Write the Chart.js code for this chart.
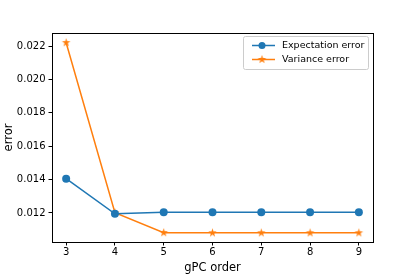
<!DOCTYPE html>
<html>
<head>
<meta charset="utf-8">
<script src="https://cdn.jsdelivr.net/npm/chart.js@4.4.1/dist/chart.umd.min.js"></script>
<style>
  html, body { margin: 0; padding: 0; background: #fff; }
  #wrap { width: 415px; height: 277px; }
</style>
</head>
<body>
<div id="wrap"><canvas id="grafico" width="415" height="277"></canvas></div>
<script>
const ordens = [3, 4, 5, 6, 7, 8, 9];
const erroEsperanca = [0.01405, 0.01195, 0.01204, 0.01204, 0.01204, 0.01204, 0.01204];
const erroVariancia = [0.0222, 0.01202, 0.01082, 0.01081, 0.01081, 0.01081, 0.01081];
const ticksY = [0.012, 0.014, 0.016, 0.018, 0.020, 0.022];

const azul = '#1f77b4';
const laranja = '#ff7f0e';

// estrela preenchida estilo matplotlib
function criarEstrela(cor, r) {
  const c = document.createElement('canvas');
  const s = Math.ceil(r * 2 + 2);
  c.width = s; c.height = s;
  const g = c.getContext('2d');
  g.translate(s / 2, s / 2);
  g.beginPath();
  for (let i = 0; i < 10; i++) {
    const rad = i % 2 === 0 ? r : r * 0.38;
    const ang = -Math.PI / 2 + i * Math.PI / 5;
    const px = rad * Math.cos(ang), py = rad * Math.sin(ang);
    if (i === 0) g.moveTo(px, py); else g.lineTo(px, py);
  }
  g.closePath();
  g.fillStyle = cor;
  g.fill();
  return c;
}
const estrela = criarEstrela(laranja, 4.5);

const fonte = 'DejaVu Sans';

const moldura = {
  id: 'moldura',
  afterDraw(chart) {
    const { ctx, chartArea: a } = chart;
    ctx.save();
    ctx.strokeStyle = '#000';
    ctx.lineWidth = 1;
    ctx.strokeRect(Math.round(a.left) + 0.5, Math.round(a.top) + 0.5,
      Math.round(a.right - a.left), Math.round(a.bottom - a.top));

    // legenda
    const x0 = 243, y0 = 36, w = 125, h = 33;
    ctx.fillStyle = 'rgba(255,255,255,0.8)';
    ctx.strokeStyle = '#cccccc';
    ctx.lineWidth = 1;
    ctx.beginPath();
    ctx.roundRect(x0 + 0.5, y0 + 0.5, w, h, 2);
    ctx.fill();
    ctx.stroke();
    ctx.font = '9.5px "' + fonte + '"';
    ctx.textBaseline = 'middle';
    chart.data.datasets.forEach((ds, i) => {
      const yy = y0 + 9.5 + i * 14;
      ctx.strokeStyle = ds.borderColor;
      ctx.lineWidth = 1.5;
      ctx.beginPath();
      ctx.moveTo(x0 + 9, yy);
      ctx.lineTo(x0 + 32, yy);
      ctx.stroke();
      if (i === 0) {
        ctx.fillStyle = ds.borderColor;
        ctx.beginPath();
        ctx.arc(x0 + 19, yy, 3.5, 0, Math.PI * 2);
        ctx.fill();
      } else {
        ctx.drawImage(estrela, x0 + 19 - estrela.width / 2, yy - estrela.height / 2);
      }
      ctx.fillStyle = '#000';
      ctx.fillText(ds.label, x0 + 39, yy);
    });
    ctx.restore();
  }
};

const grafico = new Chart(document.getElementById('grafico').getContext('2d'), {
  type: 'line',
  data: {
    datasets: [{
      label: 'Expectation error',
      data: ordens.map((o, i) => ({ x: o, y: erroEsperanca[i] })),
      borderColor: azul,
      backgroundColor: azul,
      borderWidth: 1.5,
      pointRadius: 4,
      pointStyle: 'circle',
      pointBorderWidth: 0,
      tension: 0
    }, {
      label: 'Variance error',
      data: ordens.map((o, i) => ({ x: o, y: erroVariancia[i] })),
      borderColor: laranja,
      backgroundColor: laranja,
      borderWidth: 1.5,
      pointStyle: estrela,
      tension: 0
    }]
  },
  options: {
    responsive: false,
    animation: false,
    layout: { padding: { left: 0, top: 33, right: 42, bottom: 0 } },
    plugins: {
      legend: { display: false },
      tooltip: { enabled: false }
    },
    scales: {
      x: {
        type: 'linear',
        min: 2.71,
        max: 9.29,
        afterBuildTicks: s => { s.ticks = ordens.map(v => ({ value: v })); },
        afterFit: s => { s.height = 35; },
        grid: { display: true, drawOnChartArea: false, drawTicks: true, tickLength: 3.5, tickColor: '#000' },
        border: { display: false },
        ticks: { color: '#000', padding: 1, font: { family: fonte, size: 10 }, maxRotation: 0 },
        title: { display: true, text: 'gPC order', color: '#000', font: { family: fonte, size: 11.5 }, padding: { top: 0, bottom: 2 } }
      },
      y: {
        min: 0.01026,
        max: 0.02278,
        afterBuildTicks: s => { s.ticks = ticksY.map(v => ({ value: v })); },
        afterFit: s => { s.width = 52; },
        grid: { display: true, drawOnChartArea: false, drawTicks: true, tickLength: 3.5, tickColor: '#000' },
        border: { display: false },
        ticks: { color: '#000', padding: 3, font: { family: fonte, size: 10 }, callback: v => v.toFixed(3) },
        title: { display: true, text: 'error', color: '#000', font: { family: fonte, size: 11.5 }, padding: { top: 2, bottom: 0 } }
      }
    }
  },
  plugins: [moldura]
});
</script>
</body>
</html>
